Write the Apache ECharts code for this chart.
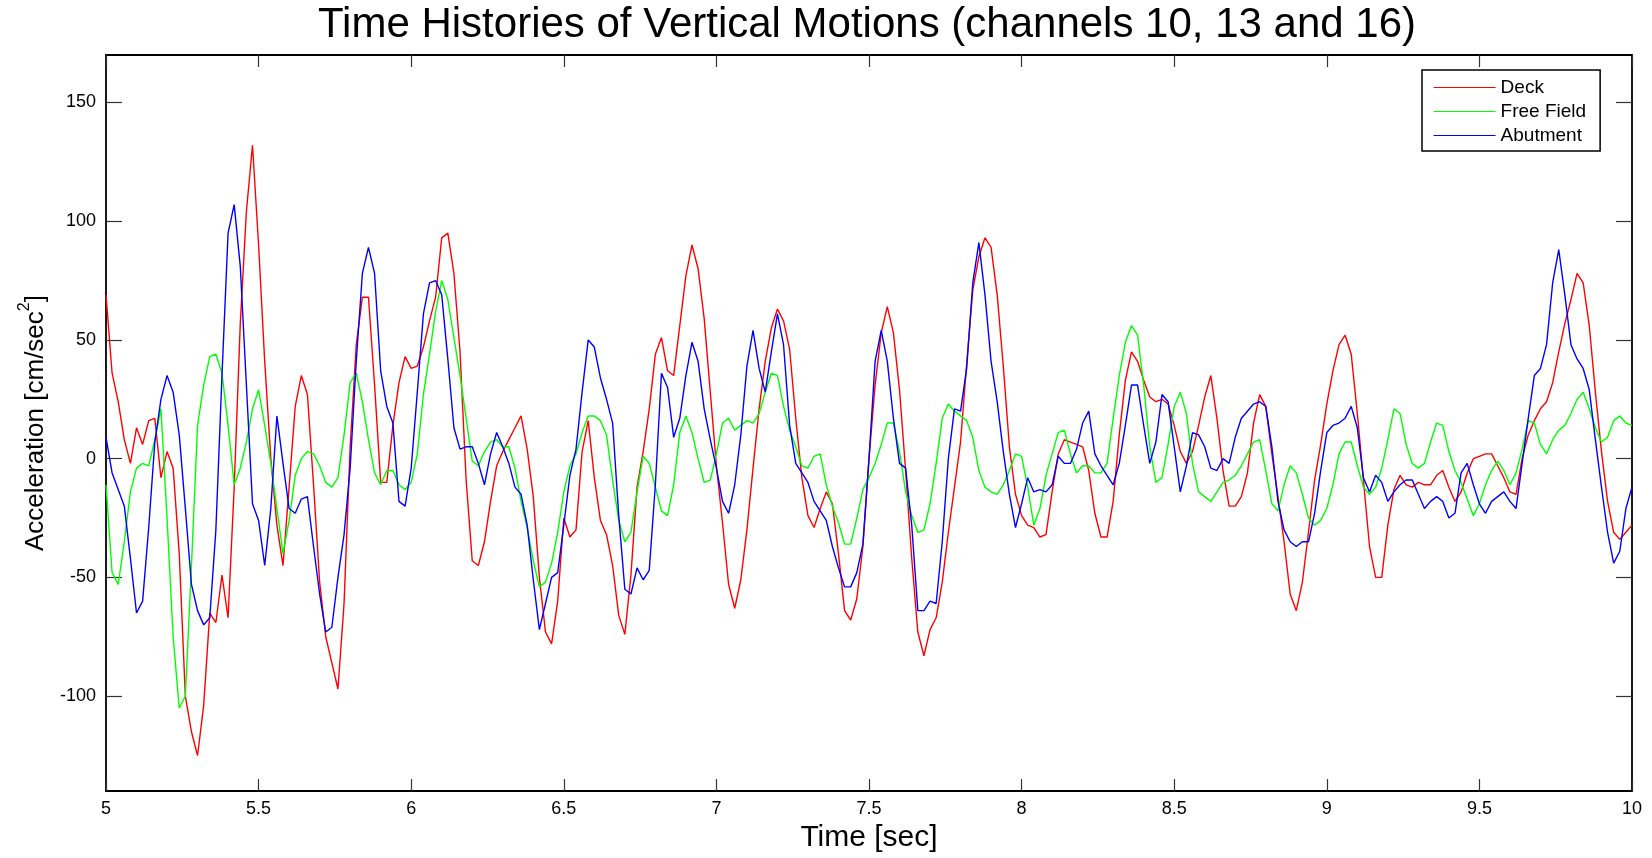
<!DOCTYPE html>
<html>
<head>
<meta charset="utf-8">
<script src="https://cdn.jsdelivr.net/npm/echarts@6/dist/echarts.min.js"></script>
<style>
html,body{margin:0;padding:0;background:#fff;}
#chart{width:1652px;height:858px;}
</style>
</head>
<body>
<div id="chart"></div>
<script>
// Sampling: 5.00 s to 10.00 s, every 0.02 s
const T0 = 5;
const DT = 0.02;

// Deck (channel 10)
const deck = [
  69,36,24,8,-2,13,6,16,17,-8,3,-4,-40,-100,-115,-125,-104,-65,-69,-49,-67,-12,57,104,132,
  90,41,0,-28,-45,-12,22,35,27,-11,-52,-75,-86,-97,-61,5,48,68,68,31,-10,-10,14,32,43,
  38,39,47,58,68,93,95,78,45,-9,-43,-45,-35,-18,-3,3,8,13,18,4,-16,-50,-73,-78,-60,
  -25,-33,-30,3,16,-8,-26,-32,-45,-66,-74,-49,-12,3,21,44,51,37,35,56,77,90,80,59,28,
  -3,-27,-53,-63,-51,-30,-4,21,41,55,63,58,46,17,-8,-24,-29,-21,-14,-19,-40,-64,-68,-59,-37,
  0,31,53,64,53,29,-5,-42,-73,-83,-72,-67,-52,-31,-12,7,40,71,85,93,89,69,39,5,-15,
  -24,-28,-29,-33,-32,-14,2,8,7,6,5,-5,-23,-33,-33,-18,10,33,45,41,33,26,24,25,23,
  14,3,-2,3,14,26,35,17,-5,-20,-20,-16,-6,15,27,22,2,-16,-35,-57,-64,-52,-31,-9,6,
  23,37,48,52,44,19,-9,-37,-50,-50,-28,-13,-7,-11,-12,-10,-11,-11,-7,-5,-12,-18,-14,-6,0,
  1,2,2,-3,-8,-14,-15,0,10,16,21,24,32,45,57,67,78,74,56,28,3,-18,-31,-34,-31,-28
];

// Free Field (channel 13)
const freeField = [
  -11,-48,-53,-35,-14,-4,-2,-3,8,21,-25,-75,-105,-100,-45,14,31,43,44,36,14,-11,-4,7,21,
  29,14,-2,-21,-40,-26,-7,0,3,2,-3,-10,-12,-8,10,32,36,24,8,-6,-11,-5,-5,-11,-13,
  -10,2,27,44,62,75,67,51,35,17,-1,-3,3,7,8,5,5,-4,-18,-29,-43,-54,-52,-44,-31,
  -14,-3,2,11,18,18,16,10,-9,-26,-35,-31,-14,1,-2,-12,-22,-24,-11,11,18,11,0,-10,-9,
  2,15,17,12,14,16,15,19,28,36,35,22,12,5,-3,-4,1,2,-11,-20,-27,-36,-36,-25,-13,
  -8,-2,6,15,15,3,-14,-24,-31,-30,-19,-2,17,23,20,18,16,9,-5,-12,-14,-15,-11,-5,2,
  1,-12,-28,-21,-7,2,11,12,2,-6,-3,-3,-6,-6,-2,17,35,49,56,52,31,5,-10,-8,6,
  22,28,19,-2,-14,-16,-18,-14,-10,-9,-7,-3,2,7,8,-5,-19,-22,-11,-3,-6,-15,-25,-28,-26,
  -21,-11,2,7,7,-3,-12,-15,-12,-4,8,21,19,6,-2,-4,-2,7,15,14,3,-5,-10,-17,-24,
  -19,-11,-5,-1,-5,-11,-6,4,16,15,6,2,8,12,14,19,25,28,21,13,7,9,16,18,15,14
];

// Abutment (channel 16)
const abutment = [
  9,-6,-13,-20,-42,-65,-60,-29,7,25,35,28,10,-21,-53,-64,-70,-67,-30,35,95,107,81,31,-19,
  -26,-45,-21,18,-2,-21,-23,-17,-16,-37,-57,-73,-71,-50,-32,-4,41,78,89,78,37,22,15,-18,-20,
  -4,28,61,74,75,69,42,13,4,5,5,-2,-11,2,11,5,-2,-12,-15,-28,-51,-72,-61,-50,-48,
  -28,-7,4,28,50,47,34,25,15,-24,-55,-57,-46,-51,-47,-11,36,30,9,17,35,49,41,21,8,
  -4,-18,-23,-11,10,39,54,38,28,45,61,48,14,-2,-6,-10,-18,-22,-26,-37,-46,-54,-54,-48,-36,
  0,41,54,41,17,-2,-4,-28,-64,-64,-60,-61,-35,0,21,20,38,74,91,69,41,24,3,-15,-29,
  -19,-8,-14,-13,-14,-11,1,-2,-2,4,15,20,2,-3,-7,-11,-2,14,31,31,14,-2,7,27,24,
  5,-14,-3,11,10,5,-4,-5,0,-2,9,17,20,23,24,22,5,-18,-30,-35,-37,-35,-35,-23,-5,
  11,14,15,17,22,13,-8,-14,-7,-10,-18,-14,-11,-9,-9,-15,-21,-18,-16,-18,-25,-23,-6,-2,-11,
  -19,-23,-18,-16,-14,-18,-21,-2,17,35,38,48,74,88,69,48,42,38,29,8,-12,-31,-44,-39,-21,-12
];

const seriesNames = ['Deck', 'Free Field', 'Abutment'];
const yTicks = [-100, -50, 0, 50, 100, 150];
const titleText = 'Time Histories of Vertical Motions (channels 10, 13 and 16)';
const xName = 'Time [sec]';

const FONT = "'Liberation Sans', Arial, Helvetica, sans-serif";
const colors = ['#ff0000', '#00ff00', '#0000ff'];

function toPairs(arr) {
  return arr.map((v, i) => [Math.round((T0 + i * DT) * 100) / 100, v]);
}

const chart = echarts.init(document.getElementById('chart'), null, {renderer: 'canvas'});

const axisLineStyle = {color: '#000', width: 1.8};
const tickStyle = {color: '#333', width: 1.2};

const option = {
  animation: false,
  backgroundColor: '#fff',
  graphic: [{
    type: 'text',
    x: 867,
    y: 25,
    style: {
      text: titleText,
      font: "42px " + FONT,
      fill: '#000',
      textAlign: 'center',
      textVerticalAlign: 'middle'
    }
  }],
  grid: {left: 106, right: 20, top: 55, bottom: 63, containLabel: false},
  legend: {
    data: seriesNames,
    orient: 'vertical',
    left: 1422,
    top: 70,
    padding: [8, 14, 6, 11],
    itemGap: 5,
    itemWidth: 62,
    itemHeight: 14,
    backgroundColor: '#fff',
    borderColor: '#000',
    borderWidth: 1.5,
    borderRadius: 0,
    textStyle: {fontFamily: FONT, fontSize: 19, color: '#000'},
    lineStyle: {width: 1.2},
    itemStyle: {opacity: 0}
  },
  xAxis: [{
    type: 'value',
    min: 5, max: 10, interval: 0.5,
    position: 'bottom',
    name: xName,
    nameLocation: 'middle',
    nameGap: 27,
    nameTextStyle: {fontFamily: FONT, fontSize: 30, color: '#000'},
    axisLine: {show: true, onZero: false, lineStyle: axisLineStyle},
    axisTick: {show: true, inside: true, length: 12, lineStyle: tickStyle},
    axisLabel: {fontFamily: FONT, fontSize: 18, color: '#000', margin: 9,
      formatter: v => String(v)},
    splitLine: {show: false}
  }, {
    type: 'value',
    min: 5, max: 10, interval: 0.5,
    position: 'top',
    axisLine: {show: true, onZero: false, lineStyle: axisLineStyle},
    axisTick: {show: true, inside: true, length: 12, lineStyle: tickStyle},
    axisLabel: {show: false},
    splitLine: {show: false}
  }],
  yAxis: [{
    type: 'value',
    min: -140, max: 170,
    position: 'left',
    name: '{b|Acceleration [cm/sec}{s|2}{b|]}',
    nameLocation: 'middle',
    nameRotate: 90,
    nameGap: 54,
    nameTextStyle: {
      rich: {
        b: {fontFamily: FONT, fontSize: 26, color: '#000', lineHeight: 32, verticalAlign: 'bottom'},
        s: {fontFamily: FONT, fontSize: 16, color: '#000', lineHeight: 16, verticalAlign: 'top'}
      }
    },
    axisLine: {show: true, onZero: false, lineStyle: axisLineStyle},
    axisTick: {show: true, inside: true, length: 16, lineStyle: tickStyle, customValues: yTicks},
    axisLabel: {fontFamily: FONT, fontSize: 18, color: '#000', margin: 10, customValues: yTicks},
    splitLine: {show: false}
  }, {
    type: 'value',
    min: -140, max: 170,
    position: 'right',
    axisLine: {show: true, onZero: false, lineStyle: axisLineStyle},
    axisTick: {show: true, inside: true, length: 16, lineStyle: tickStyle, customValues: yTicks},
    axisLabel: {show: false, customValues: yTicks},
    splitLine: {show: false}
  }],
  series: [deck, freeField, abutment].map((arr, i) => ({
    name: seriesNames[i],
    type: 'line',
    xAxisIndex: 0,
    yAxisIndex: 0,
    data: toPairs(arr),
    symbol: 'none',
    showSymbol: false,
    smooth: false,
    lineStyle: {color: colors[i], width: 1.4},
    itemStyle: {color: colors[i]},
    emphasis: {disabled: true},
    z: 2
  }))
};

chart.setOption(option);
</script>
</body>
</html>
